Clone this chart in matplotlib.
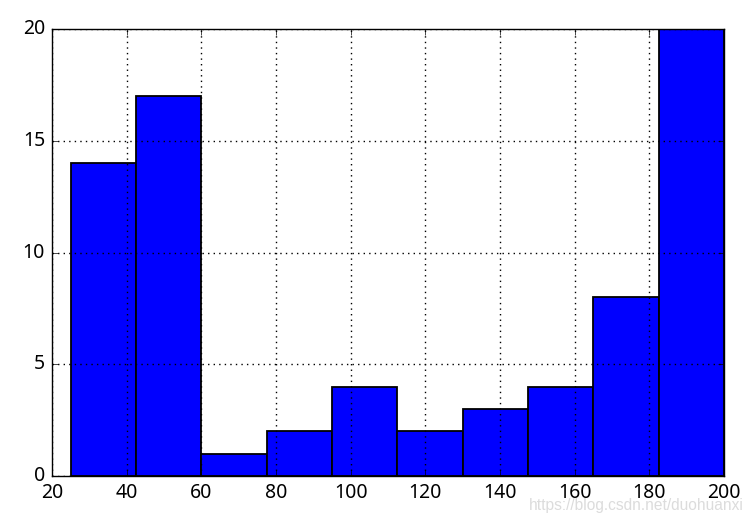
import numpy as np
import matplotlib
matplotlib.use("Agg")
import matplotlib.pyplot as plt

# ------------------------------
# Data
# ------------------------------
bin_edges = [25, 42.5, 60, 77.5, 95, 112.5, 130, 147.5, 165, 182.5, 200]
counts = [14, 17, 1, 2, 4, 2, 3, 4, 8, 20]
x_ticks = [20, 40, 60, 80, 100, 120, 140, 160, 180, 200]
y_ticks = [0, 5, 10, 15, 20]

plt.style.use("classic")
plt.rcParams["font.family"] = ["Noto Sans", "DejaVu Sans"]

fig = plt.figure(figsize=(7.54, 5.24), dpi=100)
ax = fig.add_axes([52 / 754, 1 - 476 / 524, (724 - 52) / 754, (476 - 29) / 524])

centers = [(a + b) / 2 for a, b in zip(bin_edges[:-1], bin_edges[1:])]
ax.hist(centers, bins=bin_edges, weights=counts, color="#0000ff",
        edgecolor="black", linewidth=1.3)

ax.set_xlim(20, 200)
ax.set_ylim(0, 20)
ax.set_xticks(x_ticks)
ax.set_yticks(y_ticks)
ax.tick_params(labelsize=14, pad=5)
ax.grid(True, color="black", linestyle=":", linewidth=1.0)

# watermark from the source image (it sits over the x tick labels there too)
fig.text(744 / 754, 1 - 510 / 524, "https://blog.csdn.net/duohuanxi", ha="right",
         va="baseline", color="#dcdcdc", fontsize=11.2, family="Liberation Sans")

fig.savefig("out.png", dpi=100)
